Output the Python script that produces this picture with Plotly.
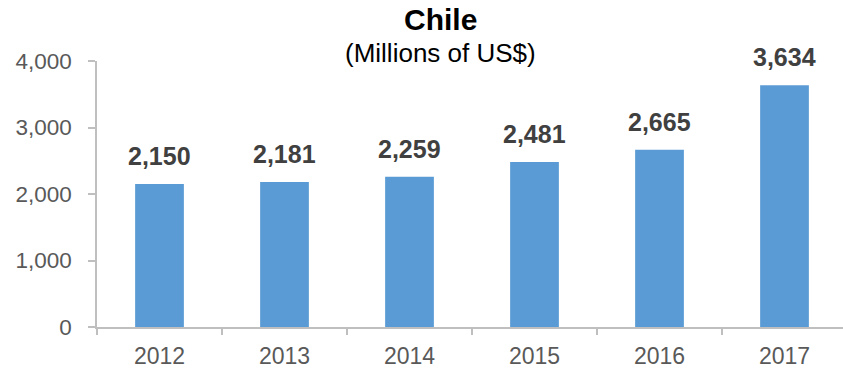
import plotly.graph_objects as go

# Annual values, millions of US$
years = ["2012", "2013", "2014", "2015", "2016", "2017"]
values = [2150, 2181, 2259, 2481, 2665, 3634]
value_labels = ["2,150", "2,181", "2,259", "2,481", "2,665", "3,634"]
y_ticks = [0, 1000, 2000, 3000, 4000]
y_tick_text = ["0", "1,000", "2,000", "3,000", "4,000"]

FONT = "Liberation Sans, Arial, sans-serif"
AXIS_GRAY = "#BFBFBF"
TEXT_GRAY = "#595959"
BAR_BLUE = "#5B9BD5"

fig = go.Figure(
    go.Bar(
        x=years,
        y=values,
        width=0.39,
        marker=dict(color=BAR_BLUE, line=dict(width=0)),
        hoverinfo="skip",
    )
)

# Bold value labels above each bar (category axis: position by index)
for i, (v, lab) in enumerate(zip(values, value_labels)):
    fig.add_annotation(
        x=i, y=v, text=f"<b>{lab}</b>", showarrow=False,
        xref="x", yref="y", yanchor="bottom", yshift=12,
        font=dict(family=FONT, size=25, color="#404040"),
    )

# Title and subtitle
fig.add_annotation(
    x=0.46, y=1, xref="paper", yref="paper", text="<b>Chile</b>",
    showarrow=False, yanchor="middle", yshift=42,
    font=dict(family=FONT, size=30, color="#000000"),
)
fig.add_annotation(
    x=0.46, y=1, xref="paper", yref="paper", text="(Millions of US$)",
    showarrow=False, yanchor="middle", yshift=8,
    font=dict(family=FONT, size=26, color="#000000"),
)

fig.update_layout(
    width=843, height=368,
    margin=dict(l=97, r=0, t=61, b=41),
    paper_bgcolor="white", plot_bgcolor="white",
    showlegend=False,
    font=dict(family=FONT, color=TEXT_GRAY),
)

fig.update_xaxes(
    type="category",
    range=[-0.5, 5.468],
    showline=True, linecolor=AXIS_GRAY, linewidth=1.5,
    ticks="outside", tickson="boundaries", ticklen=6, tickcolor=AXIS_GRAY, tickwidth=1.5,
    tickfont=dict(family=FONT, size=23, color=TEXT_GRAY),
    ticklabelstandoff=8,
    showgrid=False, zeroline=False,
)
fig.update_yaxes(
    range=[0, 4000],
    tickvals=y_ticks, ticktext=y_tick_text,
    showline=True, linecolor=AXIS_GRAY, linewidth=1.5,
    ticks="outside", ticklen=7, tickcolor=AXIS_GRAY, tickwidth=1.5,
    tickfont=dict(family=FONT, size=22.5, color=TEXT_GRAY),
    ticklabelstandoff=12,
    showgrid=False, zeroline=False,
)

fig.write_html("out.html")
